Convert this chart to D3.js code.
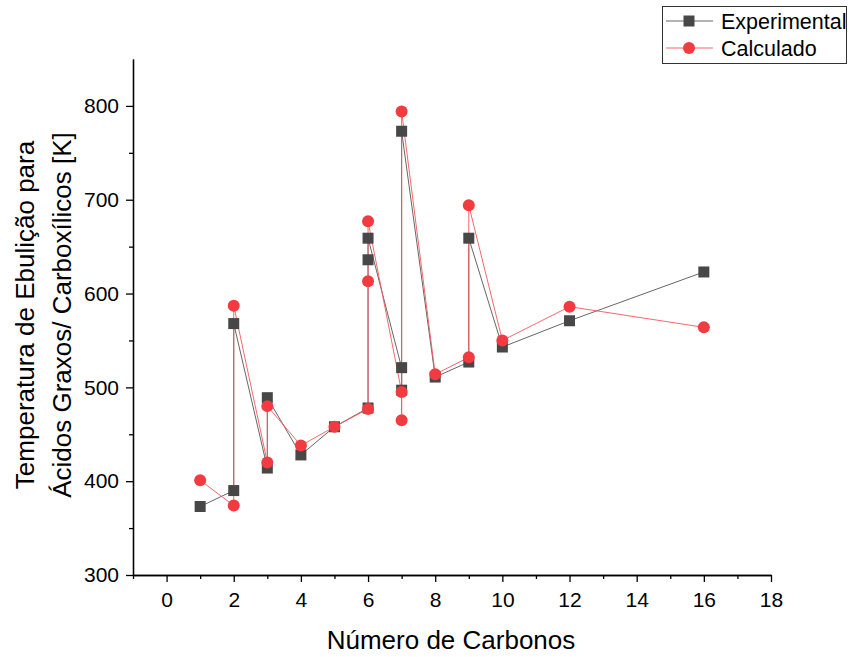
<!DOCTYPE html>
<html>
<head>
<meta charset="utf-8">
<script src="https://cdn.jsdelivr.net/npm/d3@7/dist/d3.min.js"></script>
<style>
  html, body { margin: 0; padding: 0; background: #fff; }
  svg { display: block; font-family: "Liberation Sans", Arial, sans-serif; }
</style>
</head>
<body>
<svg id="chart" width="852" height="657"></svg>
<script>
// Number of carbons and boiling temperature (K) for each acid, in plotting order
const carbonsExp = [1, 2, 2, 3, 3, 4, 5, 6, 6, 6, 7, 7, 7, 8, 9, 9, 10, 12, 16];
const tempExp    = [373, 390, 568, 414, 489, 428, 458, 478, 636, 659, 521, 497, 773, 511, 527, 659, 543, 571, 623];

const carbonsCalc = [1, 2, 2, 3, 3, 4, 5, 6, 6, 6, 7, 7, 7, 8, 9, 9, 10, 12, 16];
const tempCalc    = [401, 374, 587, 420, 480, 438, 458, 477, 613, 677, 495, 465, 794, 514, 532, 694, 550, 586, 564];

const xMajorTicks = [0, 2, 4, 6, 8, 10, 12, 14, 16, 18];
const xMinorTicks = [-1, 1, 3, 5, 7, 9, 11, 13, 15, 17];
const yMajorTicks = [300, 400, 500, 600, 700, 800];
const yMinorTicks = [350, 450, 550, 650, 750];

const seriesNames = ["Experimental", "Calculado"];

const svg = d3.select("#chart");

const x = d3.scaleLinear().domain([-1, 18]).range([133, 771]);
const y = d3.scaleLinear().domain([300, 850]).range([575, 59]);

// Axes: major ticks with labels, minor ticks without
svg.append("g").attr("transform", `translate(0,${y(300)})`)
  .call(d3.axisBottom(x).tickValues(xMajorTicks).tickSize(7).tickSizeOuter(0).tickPadding(10));
svg.append("g").attr("transform", `translate(0,${y(300)})`)
  .call(d3.axisBottom(x).tickValues(xMinorTicks).tickSize(4).tickSizeOuter(0).tickFormat(""));

svg.append("g").attr("transform", `translate(${x(-1)},0)`)
  .call(d3.axisLeft(y).tickValues(yMajorTicks).tickSize(7).tickSizeOuter(0).tickPadding(7));
svg.append("g").attr("transform", `translate(${x(-1)},0)`)
  .call(d3.axisLeft(y).tickValues(yMinorTicks).tickSize(4).tickSizeOuter(0).tickFormat(""));

svg.selectAll(".domain, .tick line").attr("stroke", "#000").attr("stroke-width", 1.3);
svg.selectAll(".tick text").attr("font-size", 21).attr("fill", "#000")
  .attr("font-family", "'Liberation Sans', Arial, sans-serif");

// Axis titles
svg.append("text")
  .attr("x", 451).attr("y", 649)
  .attr("text-anchor", "middle").attr("font-size", 26).attr("fill", "#000")
  .text("Número de Carbonos");

const yTitle = svg.append("text")
  .attr("transform", "translate(0,315) rotate(-90)")
  .attr("text-anchor", "middle").attr("font-size", 26).attr("fill", "#000");
yTitle.append("tspan").attr("x", 0).attr("y", 34).text("Temperatura de Ebulição para");
yTitle.append("tspan").attr("x", 0).attr("y", 71).text("Ácidos Graxos/ Carboxílicos [K]");

// Series
const expData = carbonsExp.map((c, i) => ({ c, t: tempExp[i] }));
const calcData = carbonsCalc.map((c, i) => ({ c, t: tempCalc[i] }));

const line = d3.line().x(d => x(d.c)).y(d => y(d.t));

const expColor = "#474747";
const expLine = "#555";
const calcColor = "#f23b40";
const calcLine = "#f4575b";

svg.append("path").datum(expData)
  .attr("d", line).attr("fill", "none")
  .attr("stroke", expLine).attr("stroke-width", 0.9);

svg.append("path").datum(calcData)
  .attr("d", line).attr("fill", "none")
  .attr("stroke", calcLine).attr("stroke-width", 0.9);

const sq = 11;
svg.append("g").selectAll("rect").data(expData).join("rect")
  .attr("x", d => x(d.c) - sq / 2).attr("y", d => y(d.t) - sq / 2)
  .attr("width", sq).attr("height", sq).attr("fill", expColor);

svg.append("g").selectAll("circle").data(calcData).join("circle")
  .attr("cx", d => x(d.c)).attr("cy", d => y(d.t)).attr("r", 6)
  .attr("fill", calcColor);

// Legend
const legend = svg.append("g");
legend.append("rect").attr("x", 662.5).attr("y", 6.5).attr("width", 184).attr("height", 57)
  .attr("fill", "#fff").attr("stroke", "#333").attr("stroke-width", 1);

const legendRows = [
  { name: seriesNames[0], color: expColor, lineColor: expLine, shape: "square", cy: 21 },
  { name: seriesNames[1], color: calcColor, lineColor: calcLine, shape: "circle", cy: 48 }
];
legendRows.forEach(r => {
  legend.append("line").attr("x1", 666).attr("x2", 713).attr("y1", r.cy).attr("y2", r.cy)
    .attr("stroke", r.lineColor).attr("stroke-width", 0.9);
  if (r.shape === "square") {
    legend.append("rect").attr("x", 689 - sq / 2).attr("y", r.cy - sq / 2)
      .attr("width", sq).attr("height", sq).attr("fill", r.color);
  } else {
    legend.append("circle").attr("cx", 689).attr("cy", r.cy).attr("r", 6).attr("fill", r.color);
  }
  legend.append("text").attr("x", 721).attr("y", r.cy + 8)
    .attr("font-size", 21.5).attr("fill", "#000").text(r.name);
});
</script>
</body>
</html>
